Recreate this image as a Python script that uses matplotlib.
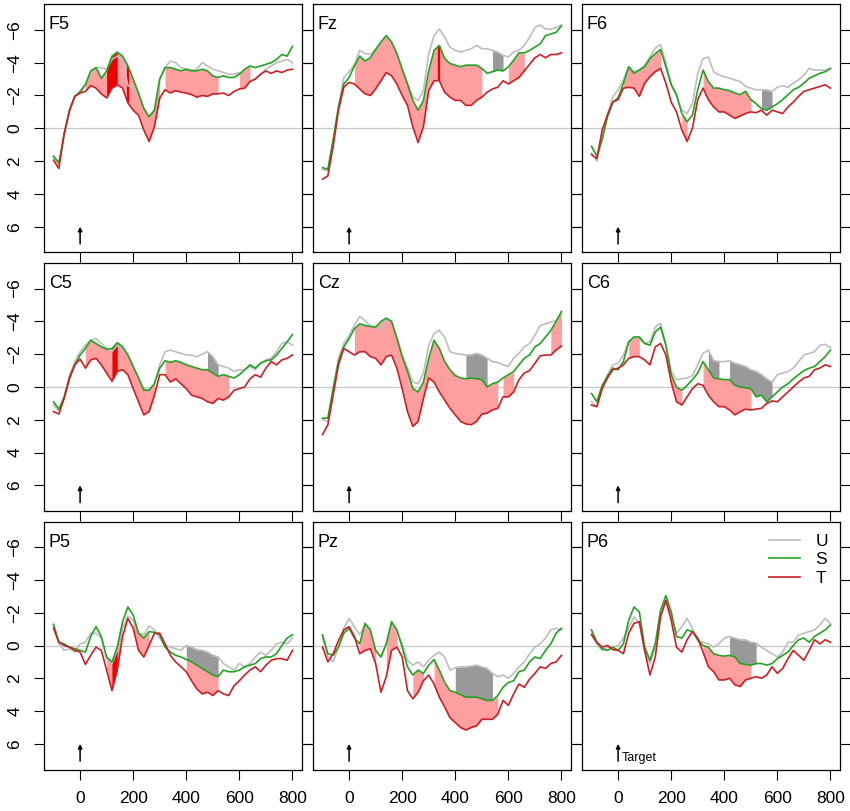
import matplotlib
matplotlib.use("Agg")
import matplotlib.pyplot as plt
import numpy as np

plt.rcParams['font.family'] = ['Liberation Sans', 'DejaVu Sans']

# time axis (ms), one value every 20 ms
t_ms = list(range(-100, 801, 20))

# ---- amplitudes (microvolts); negative is up ----
F5_U = [1.8, 2.2, 0.4, -1.0, -1.9, -2.3, -2.7, -3.4, -3.7, -3.7, -3.6, -4.2, -4.4, -4.2, -2.6, -2.5, -2.1, -1.2, -0.7, -1.1, -3.0, -3.7, -4.1, -4.0, -3.7, -3.6, -3.55, -3.6, -4.0, -3.8, -3.6, -3.5, -3.4, -3.3, -3.3, -3.4, -3.2, -2.9, -3.0, -3.3, -3.6, -3.8, -4.0, -4.1, -4.2, -4.0]
F5_S = [1.7, 2.1, 0.4, -1.1, -1.95, -2.2, -2.65, -3.5, -3.7, -3.05, -3.5, -4.4, -4.65, -4.4, -3.8, -3.0, -2.15, -1.2, -0.7, -1.1, -3.0, -3.7, -3.7, -3.6, -3.5, -3.6, -3.5, -3.5, -3.6, -3.5, -3.2, -3.1, -3.2, -3.1, -3.1, -3.3, -3.6, -3.8, -3.7, -3.8, -3.9, -4.0, -4.2, -4.5, -4.4, -5.0]
F5_T = [1.95, 2.45, 0.3, -1.1, -1.95, -2.15, -2.25, -2.6, -2.45, -2.1, -1.85, -2.45, -2.65, -2.45, -1.55, -1.1, -0.8, 0.1, 0.8, -0.1, -1.85, -2.35, -2.15, -2.3, -2.2, -2.15, -2.05, -1.9, -2.0, -1.95, -2.1, -2.1, -2.15, -2.0, -2.25, -2.4, -2.45, -2.85, -3.0, -3.3, -3.5, -3.35, -3.5, -3.4, -3.55, -3.6]

Fz_U = [2.5, 2.6, 0.8, -1.3, -3.1, -3.45, -3.9, -4.75, -4.55, -4.5, -4.8, -5.25, -5.65, -5.25, -4.55, -3.6, -2.7, -1.9, -1.7, -2.3, -4.55, -5.65, -6.05, -5.55, -4.95, -4.75, -4.65, -4.75, -4.85, -5.05, -4.85, -4.85, -4.75, -4.65, -4.45, -4.35, -4.65, -4.75, -5.05, -5.55, -6.15, -6.3, -6.05, -6.05, -6.15, -6.3]
Fz_S = [2.4, 2.5, 0.7, -1.3, -2.7, -3.1, -3.8, -4.4, -4.1, -4.3, -4.8, -5.25, -5.65, -5.25, -4.55, -3.6, -2.7, -1.7, -1.1, -1.7, -3.5, -4.75, -5.05, -4.25, -3.95, -3.85, -3.75, -3.85, -3.85, -3.85, -3.65, -3.35, -3.45, -3.55, -3.5, -3.75, -4.15, -4.6, -4.6, -4.75, -4.95, -5.15, -5.65, -5.75, -5.85, -6.25]
Fz_T = [3.1, 2.9, 1.1, -1.1, -2.5, -2.8, -2.7, -2.4, -2.1, -2.0, -2.4, -2.9, -3.4, -3.2, -2.7, -2.0, -1.4, -0.1, 0.87, -0.1, -2.3, -2.9, -2.9, -2.2, -1.9, -1.7, -1.7, -1.4, -1.4, -1.7, -1.9, -2.2, -2.4, -2.5, -2.9, -2.7, -2.9, -3.1, -3.5, -3.9, -4.3, -4.5, -4.3, -4.5, -4.5, -4.6]

F6_U = [1.5, 2.0, 0.5, -0.9, -1.9, -2.35, -2.95, -3.75, -3.45, -3.55, -3.85, -4.35, -4.9, -5.1, -4.0, -2.75, -1.95, -1.1, -0.9, -1.5, -3.35, -4.25, -4.35, -3.45, -3.25, -3.15, -3.05, -2.95, -2.85, -2.55, -2.45, -2.35, -2.35, -2.35, -2.25, -2.5, -2.6, -2.5, -2.75, -2.95, -3.25, -3.65, -3.55, -3.55, -3.55, -3.65]
F6_S = [1.1, 1.7, 0.7, -0.7, -1.6, -1.85, -2.75, -3.75, -3.35, -3.55, -3.75, -4.25, -4.55, -4.8, -3.75, -2.65, -2.05, -0.9, -0.4, -0.8, -2.35, -3.55, -2.85, -2.45, -2.45, -2.35, -2.3, -2.15, -2.05, -2.25, -1.75, -1.5, -1.2, -1.1, -1.3, -1.5, -1.75, -2.05, -2.35, -2.5, -2.75, -3.05, -3.2, -3.35, -3.45, -3.65]
F6_T = [1.6, 1.85, 0.1, -0.8, -1.6, -1.75, -2.45, -2.5, -2.45, -1.95, -2.75, -3.15, -3.45, -3.65, -2.75, -1.6, -1.0, 0.1, 0.8, 0.0, -1.75, -2.45, -1.75, -1.3, -1.0, -1.0, -0.8, -0.6, -0.75, -0.9, -1.0, -0.95, -1.1, -0.8, -1.1, -1.0, -0.9, -1.3, -1.6, -1.95, -2.25, -2.35, -2.45, -2.55, -2.65, -2.45]

C5_U = [1.1, 1.45, 0.6, -0.7, -1.55, -2.15, -2.55, -2.85, -2.95, -2.65, -2.35, -2.15, -2.55, -2.35, -1.95, -1.25, -0.55, 0.1, 0.2, -0.2, -1.35, -2.15, -2.25, -2.15, -2.05, -1.95, -1.95, -1.85, -2.0, -2.15, -1.85, -1.35, -1.25, -1.15, -0.95, -1.05, -1.05, -1.25, -1.05, -1.45, -1.65, -1.75, -2.15, -2.65, -2.75, -2.55]
C5_S = [0.9, 1.35, 0.6, -0.6, -1.35, -1.95, -2.35, -2.85, -2.65, -2.45, -2.3, -2.35, -2.7, -2.45, -1.95, -1.25, -0.55, 0.2, 0.2, -0.2, -1.15, -1.6, -1.5, -1.6, -1.5, -1.35, -1.25, -1.15, -1.05, -1.05, -0.85, -0.65, -0.75, -0.65, -0.55, -0.75, -1.05, -1.35, -1.15, -1.45, -1.6, -1.65, -1.95, -2.35, -2.75, -3.2]
C5_T = [1.5, 1.65, 0.7, -0.5, -1.35, -1.7, -1.15, -1.65, -1.75, -1.35, -0.85, -0.35, -0.95, -1.05, -0.75, 0.1, 0.9, 1.7, 1.5, 0.5, -0.75, -0.75, -0.3, -0.5, -0.2, 0.1, 0.5, 0.6, 0.7, 0.9, 1.0, 0.7, 0.8, 0.6, 0.2, 0.1, 0.0, -0.5, -0.75, -0.6, -1.15, -1.55, -1.35, -1.65, -1.75, -1.95]

Cz_U = [2.0, 2.1, 0.1, -1.75, -2.65, -3.15, -3.75, -4.3, -4.05, -3.7, -3.65, -3.45, -4.05, -4.0, -3.05, -1.95, -1.15, -0.3, -0.2, -0.85, -2.55, -3.25, -3.45, -3.05, -2.15, -2.05, -2.0, -1.95, -1.95, -2.05, -1.95, -1.75, -1.55, -1.5, -1.35, -1.25, -1.75, -2.05, -2.45, -2.65, -3.15, -3.75, -3.85, -3.95, -4.05, -4.45]
Cz_S = [1.9, 1.9, 0.1, -1.55, -2.45, -2.95, -3.55, -3.85, -3.75, -3.7, -3.65, -4.0, -4.2, -4.0, -2.95, -1.85, -0.95, 0.1, 0.3, -0.3, -1.75, -2.85, -2.35, -1.55, -1.05, -0.7, -0.55, -0.5, -0.55, -0.5, -0.45, 0.0, -0.2, -0.3, -0.55, -0.75, -0.95, -1.35, -1.75, -1.95, -2.45, -2.65, -3.05, -3.45, -4.0, -4.6]
Cz_T = [2.9, 2.3, 0.5, -1.35, -2.35, -2.15, -1.95, -2.15, -2.15, -1.85, -1.75, -1.35, -1.85, -1.95, -1.15, 0.1, 1.5, 2.4, 2.1, 0.7, -0.55, -0.3, 0.3, 0.8, 1.3, 1.7, 2.1, 2.25, 2.3, 2.1, 1.65, 1.6, 1.4, 1.3, 0.6, 0.6, 0.3, -0.45, -0.85, -1.0, -1.45, -1.9, -1.95, -1.95, -2.25, -2.5]

C6_U = [0.9, 1.2, 0.1, -0.75, -1.35, -1.45, -1.95, -2.75, -3.05, -2.95, -2.65, -2.75, -3.65, -3.9, -2.55, -0.95, -0.45, -0.5, -0.55, -0.7, -1.35, -2.05, -2.25, -1.6, -1.55, -1.55, -1.6, -1.45, -1.35, -1.25, -1.05, -0.95, -0.75, -0.5, -0.3, -0.75, -0.85, -0.95, -1.15, -1.55, -1.95, -2.05, -2.15, -2.55, -2.6, -2.4]
C6_S = [0.4, 0.9, -0.1, -0.65, -1.15, -1.05, -1.55, -2.75, -3.05, -3.05, -2.65, -2.55, -3.35, -3.65, -2.55, -0.75, 0.0, 0.2, -0.1, -0.45, -0.85, -1.55, -1.05, -0.55, -0.5, -0.45, -0.45, -0.1, 0.0, 0.05, 0.1, 0.6, 0.5, 0.9, 0.6, 0.3, 0.0, -0.2, -0.5, -0.75, -1.0, -1.15, -1.25, -1.55, -1.85, -2.25]
C6_T = [1.1, 1.2, 0.1, -0.55, -1.05, -1.15, -1.35, -1.75, -1.85, -1.85, -1.65, -1.35, -2.45, -2.65, -1.95, -0.3, 0.9, 1.1, 0.6, 0.1, -0.2, -0.1, 0.5, 0.9, 1.2, 1.2, 1.4, 1.7, 1.5, 1.35, 1.4, 1.35, 1.3, 1.0, 0.85, 0.9, 0.6, 0.3, 0.0, -0.3, -0.55, -0.65, -1.05, -1.15, -1.35, -1.25]

P5_U = [-1.35, -0.1, 0.3, 0.2, 0.4, -0.1, -0.2, -0.75, -0.75, -0.45, 0.8, 1.1, 0.3, -1.05, -1.8, -1.55, -0.75, -0.65, -1.2, -0.95, -0.45, 0.0, 0.1, 0.2, 0.3, 0.0, 0.1, 0.25, 0.3, 0.4, 0.6, 0.7, 1.1, 1.3, 1.5, 1.1, 1.3, 1.1, 0.7, 0.4, 0.6, 0.3, -0.1, -0.2, -0.1, -0.45]
P5_S = [-1.25, -0.2, -0.1, 0.1, 0.2, 0.3, 0.4, -0.55, -1.15, -0.55, 0.7, 1.0, 0.1, -1.45, -2.35, -1.85, -0.75, -0.45, -0.85, -0.8, -0.65, 0.1, 0.4, 0.6, 0.7, 0.85, 1.0, 1.2, 1.4, 1.6, 1.8, 1.9, 1.5, 1.6, 1.6, 1.5, 1.3, 1.2, 1.1, 0.8, 0.7, 0.7, 0.5, 0.0, -0.45, -0.65]
P5_T = [-1.05, -0.2, 0.0, 0.1, 0.3, 0.4, 1.15, 0.6, 0.1, 0.3, 1.5, 2.75, 1.5, -0.55, -1.65, -1.05, 0.3, 0.7, 0.0, -0.75, -0.75, -0.1, 0.6, 1.0, 1.3, 1.6, 2.15, 2.65, 2.95, 2.85, 3.05, 2.75, 2.95, 3.05, 2.45, 2.15, 1.8, 1.5, 1.3, 1.6, 1.2, 0.9, 0.8, 0.8, 0.9, 0.3]

Pz_U = [-0.45, 0.7, 1.0, 0.1, -1.05, -1.65, -1.15, -0.65, -1.25, -0.85, 0.3, 0.7, -0.1, -1.35, -0.85, -0.1, 0.9, 1.2, 1.0, 1.3, 0.9, 0.6, 0.4, 0.7, 1.5, 1.35, 1.3, 1.3, 1.25, 1.2, 1.3, 1.4, 1.7, 1.9, 1.8, 2.0, 1.7, 1.3, 1.0, 0.5, 0.1, -0.1, -0.45, -0.95, -1.05, -0.95]
Pz_S = [-0.65, 0.5, 0.6, 0.1, -0.75, -1.05, -0.45, -0.1, -1.35, -0.95, 0.3, 0.7, -0.1, -1.45, -0.95, 0.1, 1.3, 1.8, 1.5, 1.7, 1.2, 0.85, 1.5, 2.25, 2.75, 2.85, 3.0, 3.15, 3.15, 3.15, 3.25, 3.35, 3.35, 3.05, 2.55, 2.25, 2.15, 1.6, 1.5, 1.0, 0.7, 0.8, 0.3, -0.1, -0.75, -1.05]
Pz_T = [0.1, 1.0, 0.5, -0.3, -0.95, -1.15, -0.55, 0.5, 0.3, 0.2, 1.1, 2.85, 1.9, 0.3, 0.1, 0.7, 2.75, 3.25, 2.85, 2.15, 1.8, 2.35, 3.15, 3.75, 4.4, 4.7, 5.0, 5.15, 5.0, 4.9, 4.5, 4.5, 4.5, 4.2, 3.35, 3.65, 2.95, 2.35, 2.55, 2.05, 1.7, 1.3, 1.4, 1.1, 1.0, 0.6]

P6_U = [-0.75, -0.05, 0.3, 0.1, 0.1, 0.0, -0.45, -1.05, -1.75, -1.35, 0.3, 1.1, 0.1, -1.75, -2.75, -1.75, -0.75, -1.15, -1.65, -1.05, -0.3, -0.2, -0.1, 0.1, -0.1, -0.45, -0.55, -0.45, -0.35, -0.35, -0.2, -0.15, 0.1, 0.3, 0.5, 0.7, 0.4, -0.2, -0.2, -0.65, -0.75, -0.85, -0.95, -1.25, -1.65, -1.35]
P6_S = [-0.95, -0.2, 0.2, 0.3, 0.1, 0.3, -0.1, -1.55, -2.35, -2.05, 0.1, 0.9, -0.1, -2.15, -3.05, -2.05, -0.55, -0.45, -0.95, -0.85, -0.35, 0.0, 0.1, 0.5, 0.6, 0.65, 0.6, 0.7, 1.1, 1.15, 1.2, 1.1, 1.1, 1.2, 1.1, 0.8, 0.6, 0.4, 0.0, -0.35, -0.45, -0.2, -0.55, -0.75, -0.95, -1.25]
P6_T = [-0.65, -0.2, 0.1, 0.0, 0.25, 0.3, 0.5, -0.75, -1.35, -1.45, 0.3, 1.8, 0.7, -1.75, -2.75, -1.55, 0.1, 0.4, -0.35, -0.85, -0.45, 0.4, 1.3, 1.6, 2.1, 2.1, 2.0, 2.4, 2.5, 2.1, 2.0, 1.9, 2.0, 1.8, 1.3, 1.7, 1.4, 0.8, 0.3, 0.6, 0.9, 0.3, -0.35, -0.1, -0.35, -0.2]

# significant windows (ms): S vs T (pink), U vs S (grey), all three (red)
pink_win = {
    "F5": [(20, 300), (320, 520), (600, 640)],
    "Fz": [(20, 500), (600, 660)],
    "F6": [(20, 160), (240, 260), (320, 500)],
    "C5": [(20, 280), (320, 560)],
    "Cz": [(20, 560), (580, 620), (760, 800)],
    "C6": [(40, 80), (200, 240), (320, 500)],
    "P5": [(100, 160), (200, 260), (400, 520)],
    "Pz": [(40, 100), (140, 180), (240, 280), (320, 560)],
    "P6": [(320, 500)],
}
grey_win = {
    "F5": [], "Fz": [(540, 580)], "F6": [(540, 580)],
    "C5": [(480, 520)], "Cz": [(440, 520)], "C6": [(340, 380), (420, 580)],
    "P5": [(400, 520)], "Pz": [(400, 540)], "P6": [(420, 520)],
}
red_win = {"F5": [(100, 140)], "C5": [(120, 140)], "P5": [(120, 140)]}
red_ticks = {"F5": [180], "Fz": [340]}

channels = [
    ("F5", F5_U, F5_S, F5_T), ("Fz", Fz_U, Fz_S, Fz_T), ("F6", F6_U, F6_S, F6_T),
    ("C5", C5_U, C5_S, C5_T), ("Cz", Cz_U, Cz_S, Cz_T), ("C6", C6_U, C6_S, C6_T),
    ("P5", P5_U, P5_S, P5_T), ("Pz", Pz_U, Pz_S, Pz_T), ("P6", P6_U, P6_S, P6_T),
]

col_U, col_S, col_T = "#bebebe", "#22a322", "#cc1f26"
col_pink, col_grey, col_red = "#ff9f9f", "#999999", "#ee0000"

fig = plt.figure(figsize=(8.5, 8.11), dpi=100)
lefts = [44 / 850, 313 / 850, 582 / 850]
bottoms = [1 - 252.3 / 811, 1 - 511 / 811, 1 - 769.5 / 811]
w, h = 258 / 850, 248 / 811

t = np.array(t_ms)
for k, (name, U, S, T) in enumerate(channels):
    r, c = divmod(k, 3)
    ax = fig.add_axes([lefts[c], bottoms[r], w, h])
    U, S, T = np.array(U), np.array(S), np.array(T)

    ax.axhline(0, color="#c8c8c8", lw=0.9, zorder=1)
    for a, b in pink_win.get(name, []):
        ax.fill_between(t, S, T, where=(t >= a) & (t <= b), color=col_pink, lw=0, zorder=2)
    for a, b in grey_win.get(name, []):
        ax.fill_between(t, U, S, where=(t >= a) & (t <= b), color=col_grey, lw=0, zorder=2)
    for a, b in red_win.get(name, []):
        ax.fill_between(t, S, T, where=(t >= a) & (t <= b), color=col_red, lw=0, zorder=2)
    for tt in red_ticks.get(name, []):
        i = t_ms.index(tt)
        ax.vlines(tt, S[i], T[i], color=col_red, lw=1.6, zorder=2)

    ax.plot(t, U, color=col_U, lw=1.2, label="U", zorder=3)
    ax.plot(t, S, color=col_S, lw=1.2, label="S", zorder=4)
    ax.plot(t, T, color=col_T, lw=1.2, label="T", zorder=5)

    ax.annotate("", xy=(0, 6.0), xytext=(0, 7.05),
                arrowprops=dict(arrowstyle="-|>", color="black", lw=1.1,
                                mutation_scale=6, shrinkA=0, shrinkB=0))
    ax.text(-118, -6.3, name, fontsize=13, ha="left", va="center")

    ax.set_xlim(-136, 836)
    ax.set_ylim(7.56, -7.56)
    ax.set_xticks([0, 200, 400, 600, 800])
    ax.set_yticks([-6, -4, -2, 0, 2, 4, 6])
    ax.tick_params(direction="out", length=7.5, width=0.8, labelsize=12.5,
                   left=True, right=True, bottom=True, top=False,
                   labelleft=(c == 0), labelbottom=(r == 2), pad=8)
    ax.tick_params(axis="y", labelrotation=90)
    for lbl in ax.get_yticklabels():
        lbl.set_va("center")
    for sp in ax.spines.values():
        sp.set_linewidth(0.9)

    if name == "P6":
        ax.text(12, 6.85, "Target", fontsize=9, ha="left", va="center")
        ax.legend(loc="upper right", frameon=False, fontsize=12.5, handlelength=1.75,
                  handletextpad=0.9, labelspacing=0.2, borderaxespad=0.3)

fig.savefig("out.png", dpi=100)
